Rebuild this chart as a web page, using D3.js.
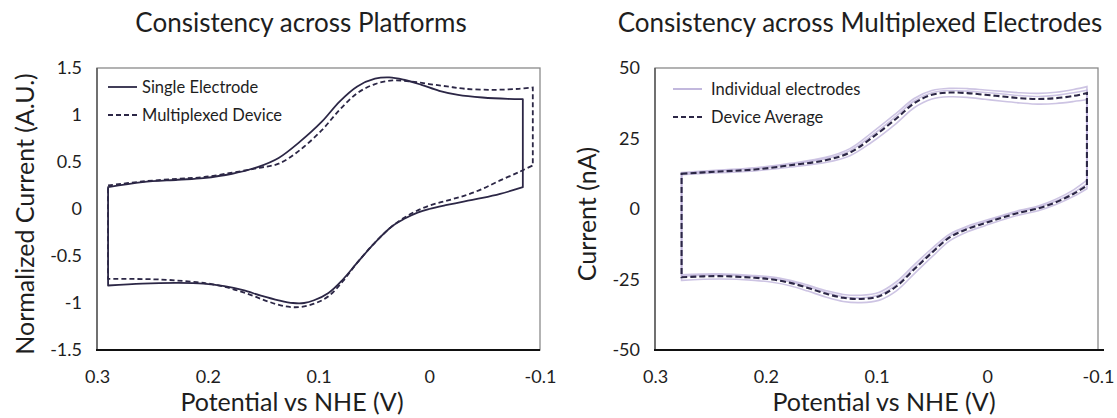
<!DOCTYPE html>
<html>
<head>
<meta charset="utf-8">
<script src="https://cdn.jsdelivr.net/npm/d3@7"></script>
<style>
  html, body { margin: 0; padding: 0; background: #fff; }
  svg text { font-family: Lato, "Open Sans", sans-serif; fill: #1e1e1e; }
</style>
</head>
<body>
<svg id="fig" width="1117" height="418"></svg>
<script>
// ---------- Left panel: normalized CVs, single electrode vs multiplexed device ----------
const singleUpperV = [0.290, 0.259, 0.227, 0.204, 0.178, 0.155, 0.136, 0.117, 0.097, 0.081, 0.065, 0.049, 0.036, 0.023, 0.007, -0.009, -0.026, -0.048, -0.071, -0.0845];
const singleUpperI = [0.232, 0.286, 0.311, 0.329, 0.375, 0.446, 0.543, 0.714, 0.929, 1.143, 1.304, 1.386, 1.400, 1.375, 1.321, 1.257, 1.214, 1.186, 1.171, 1.168];
const singleLowerV = [-0.0845, -0.064, -0.048, -0.032, -0.016, 0.000, 0.010, 0.023, 0.033, 0.049, 0.065, 0.078, 0.091, 0.104, 0.113, 0.123, 0.136, 0.152, 0.168, 0.185, 0.204, 0.227, 0.259, 0.290];
const singleLowerI = [0.232, 0.161, 0.118, 0.082, 0.043, 0.000, -0.036, -0.107, -0.179, -0.357, -0.571, -0.750, -0.893, -0.971, -1.000, -1.000, -0.971, -0.921, -0.864, -0.821, -0.793, -0.786, -0.793, -0.814];

const multiUpperV = [0.290, 0.259, 0.227, 0.204, 0.178, 0.155, 0.136, 0.117, 0.097, 0.081, 0.065, 0.049, 0.033, 0.017, 0.000, -0.016, -0.032, -0.058, -0.081, -0.0935];
const multiUpperI = [0.250, 0.293, 0.321, 0.339, 0.386, 0.436, 0.482, 0.625, 0.839, 1.054, 1.232, 1.329, 1.368, 1.357, 1.329, 1.304, 1.279, 1.268, 1.279, 1.293];
const multiLowerV = [-0.0935, -0.081, -0.064, -0.048, -0.032, -0.016, 0.000, 0.017, 0.033, 0.049, 0.065, 0.078, 0.091, 0.104, 0.117, 0.130, 0.146, 0.162, 0.178, 0.194, 0.210, 0.243, 0.290];
const multiLowerI = [0.464, 0.393, 0.304, 0.214, 0.143, 0.089, 0.036, -0.054, -0.179, -0.357, -0.571, -0.768, -0.929, -1.007, -1.043, -1.036, -0.982, -0.911, -0.850, -0.804, -0.779, -0.750, -0.743];

// ---------- Right panel: individual multiplexed electrodes and their average (nA) ----------
const devUpperV = [0.276, 0.242, 0.210, 0.178, 0.146, 0.124, 0.105, 0.082, 0.066, 0.050, 0.034, 0.018, 0.002, -0.014, -0.030, -0.046, -0.062, -0.078, -0.090];
const devLowerV = [-0.090, -0.078, -0.062, -0.046, -0.030, -0.014, 0.002, 0.018, 0.034, 0.050, 0.066, 0.082, 0.098, 0.114, 0.130, 0.146, 0.162, 0.178, 0.194, 0.210, 0.242, 0.276];

const avgUpperI = [12.5, 13.3, 14.0, 15.5, 17.3, 20.0, 25.0, 32.1, 37.5, 40.5, 41.3, 41.1, 40.5, 39.9, 39.3, 39.0, 39.3, 40.1, 41.1];
const avgLowerI = [8.3, 5.4, 2.4, 0.2, -1.2, -3.0, -5.0, -7.1, -10.1, -15.5, -21.4, -27.4, -31.0, -31.9, -31.5, -30.0, -28.0, -26.2, -25.0, -24.4, -23.8, -24.2];

const electrodeAUpperI = [12.9, 13.8, 14.6, 16.2, 18.3, 21.4, 26.8, 34.0, 39.2, 42.0, 42.8, 42.7, 42.2, 41.7, 41.2, 41.0, 41.4, 42.4, 43.4];
const electrodeALowerI = [10.2, 6.8, 3.5, 1.1, -0.4, -2.2, -4.1, -6.1, -8.9, -14.0, -19.8, -25.8, -29.6, -30.6, -30.3, -28.9, -27.0, -25.3, -24.1, -23.6, -23.0, -23.3];
const electrodeBUpperI = [12.2, 12.9, 13.5, 14.9, 16.5, 18.9, 23.5, 30.4, 35.9, 39.0, 39.8, 39.6, 38.9, 38.2, 37.6, 37.2, 37.4, 38.1, 38.8];
const electrodeBLowerI = [7.2, 4.5, 1.6, -0.6, -2.0, -3.8, -5.9, -8.1, -11.3, -17.0, -23.0, -29.0, -32.4, -33.2, -32.8, -31.2, -29.1, -27.2, -26.0, -25.3, -24.8, -25.3];
const electrodeCUpperI = [12.6, 13.5, 14.2, 15.8, 17.8, 20.7, 25.8, 33.0, 38.3, 41.2, 42.0, 41.8, 41.3, 40.8, 40.2, 39.9, 40.3, 41.2, 42.1];
const electrodeCLowerI = [8.9, 5.9, 2.8, 0.6, -0.9, -2.6, -4.6, -6.7, -9.6, -15.0, -20.9, -26.8, -30.5, -31.5, -31.1, -29.5, -27.6, -25.8, -24.6, -24.0, -23.4, -23.8];

// ---------- Axis ticks ----------
const xTicks = [0.3, 0.2, 0.1, 0, -0.1];
const xTickLabels = ["0.3", "0.2", "0.1", "0", "-0.1"];
const leftYTicks = [1.5, 1, 0.5, 0, -0.5, -1, -1.5];
const leftYTickLabels = ["1.5", "1", "0.5", "0", "-0.5", "-1", "-1.5"];
const rightYTicks = [50, 25, 0, -25, -50];
const rightYTickLabels = ["50", "25", "0", "-25", "-50"];

const LINE = "#2c2746";
const LAVENDER = "#bcb0da";
const TICK_FONT = "18px";
const AXIS_TITLE_FONT = "25px";
const TITLE_FONT = "26px";
const LEGEND_FONT = "16.5px";

const svg = d3.select("#fig");

function zip(v, i) { return v.map((d, k) => [d, i[k]]); }

// closed CV loop: smooth branches joined by straight vertical switching segments
function loopPath(x, y, upper, lower) {
  const gen = d3.line().x(d => x(d[0])).y(d => y(d[1])).curve(d3.curveCatmullRom.alpha(0.5));
  return gen(upper) + gen(lower).replace(/^M/, "L") + "Z";
}

function panel(opts) {
  const g = svg.append("g");
  const x = d3.scaleLinear().domain([0.3, -0.1]).range([opts.left, opts.left + 443]);
  const y = d3.scaleLinear().domain(opts.yDomain).range([350, 68]);

  // title
  g.append("text").attr("x", opts.titleX).attr("y", 32).attr("text-anchor", "middle")
    .style("font-size", TITLE_FONT).text(opts.title);

  // axes (labels only)
  const xAxis = d3.axisBottom(x).tickValues(xTicks).tickSize(0).tickPadding(20)
    .tickFormat((d, k) => xTickLabels[k]);
  const gx = g.append("g").attr("transform", "translate(0,350)").call(xAxis);
  gx.select(".domain").remove();
  gx.selectAll("text").style("font-size", TICK_FONT).style("font-family", "Lato, sans-serif").attr("fill", "#1e1e1e");

  const yAxis = d3.axisLeft(y).tickValues(opts.yTicks).tickSize(0).tickPadding(15)
    .tickFormat((d, k) => opts.yTickLabels[k]);
  const gy = g.append("g").attr("transform", `translate(${opts.left},0)`).call(yAxis);
  gy.select(".domain").remove();
  gy.selectAll("text").style("font-size", TICK_FONT).style("font-family", "Lato, sans-serif").attr("fill", "#1e1e1e");

  // frame
  g.append("rect").attr("x", opts.left).attr("y", 68).attr("width", 443).attr("height", 282)
    .attr("fill", "none").attr("stroke", "#8a8a8a").attr("stroke-width", 1.3);
  g.append("line").attr("x1", opts.left).attr("x2", opts.left).attr("y1", 68).attr("y2", 350)
    .attr("stroke", "#555").attr("stroke-width", 1.4);
  g.append("line").attr("x1", opts.left - 1).attr("x2", opts.left + 443 + opts.axisOverhang).attr("y1", 350).attr("y2", 350)
    .attr("stroke", "#111").attr("stroke-width", 2);

  // axis titles
  g.append("text").attr("x", opts.xTitleX).attr("y", 411).attr("text-anchor", "middle")
    .style("font-size", AXIS_TITLE_FONT).text("Potential vs NHE (V)");
  g.append("text").attr("transform", `translate(${opts.yTitleX},${214}) rotate(-90)`)
    .attr("text-anchor", "middle").style("font-size", AXIS_TITLE_FONT).text(opts.yTitle);

  return { g, x, y };
}

// ----- left panel -----
const L = panel({
  left: 97, yDomain: [-1.5, 1.5], yTicks: leftYTicks, yTickLabels: leftYTickLabels,
  title: "Consistency across Platforms", titleX: 301, xTitleX: 292, yTitleX: 34,
  yTitle: "Normalized Current (A.U.)", axisOverhang: 0
});

L.g.append("path").attr("d", loopPath(L.x, L.y, zip(singleUpperV, singleUpperI), zip(singleLowerV, singleLowerI)))
  .attr("fill", "none").attr("stroke", LINE).attr("stroke-width", 1.8).attr("stroke-linejoin", "round");
L.g.append("path").attr("d", loopPath(L.x, L.y, zip(multiUpperV, multiUpperI), zip(multiLowerV, multiLowerI)))
  .attr("fill", "none").attr("stroke", LINE).attr("stroke-width", 1.8).attr("stroke-dasharray", "5,3");

// legend
const legL = L.g.append("g");
legL.append("line").attr("x1", 108).attr("x2", 137).attr("y1", 87).attr("y2", 87)
  .attr("stroke", LINE).attr("stroke-width", 1.8);
legL.append("text").attr("x", 142).attr("y", 93).style("font-size", LEGEND_FONT).text("Single Electrode");
legL.append("line").attr("x1", 108).attr("x2", 137).attr("y1", 115).attr("y2", 115)
  .attr("stroke", LINE).attr("stroke-width", 1.8).attr("stroke-dasharray", "5,3");
legL.append("text").attr("x", 142).attr("y", 121).style("font-size", LEGEND_FONT).text("Multiplexed Device");

// ----- right panel -----
const R = panel({
  left: 655, yDomain: [-50, 50], yTicks: rightYTicks, yTickLabels: rightYTickLabels,
  title: "Consistency across Multiplexed Electrodes", titleX: 860, xTitleX: 884, yTitleX: 596,
  yTitle: "Current (nA)", axisOverhang: 6
});

const electrodes = [
  [electrodeAUpperI, electrodeALowerI],
  [electrodeBUpperI, electrodeBLowerI],
  [electrodeCUpperI, electrodeCLowerI]
];
electrodes.forEach(([u, l]) => {
  R.g.append("path").attr("d", loopPath(R.x, R.y, zip(devUpperV, u), zip(devLowerV, l)))
    .attr("fill", "none").attr("stroke", LAVENDER).attr("stroke-width", 1.6).attr("stroke-opacity", 0.75);
});
R.g.append("path").attr("d", loopPath(R.x, R.y, zip(devUpperV, avgUpperI), zip(devLowerV, avgLowerI)))
  .attr("fill", "none").attr("stroke", LINE).attr("stroke-width", 2.1).attr("stroke-dasharray", "6,3");

const legR = R.g.append("g");
legR.append("line").attr("x1", 673).attr("x2", 702).attr("y1", 89).attr("y2", 89)
  .attr("stroke", LAVENDER).attr("stroke-width", 1.8);
legR.append("text").attr("x", 711).attr("y", 95).style("font-size", LEGEND_FONT).text("Individual electrodes");
legR.append("line").attr("x1", 673).attr("x2", 702).attr("y1", 117).attr("y2", 117)
  .attr("stroke", LINE).attr("stroke-width", 2).attr("stroke-dasharray", "5,3");
legR.append("text").attr("x", 711).attr("y", 123).style("font-size", LEGEND_FONT).text("Device Average");
</script>
</body>
</html>
